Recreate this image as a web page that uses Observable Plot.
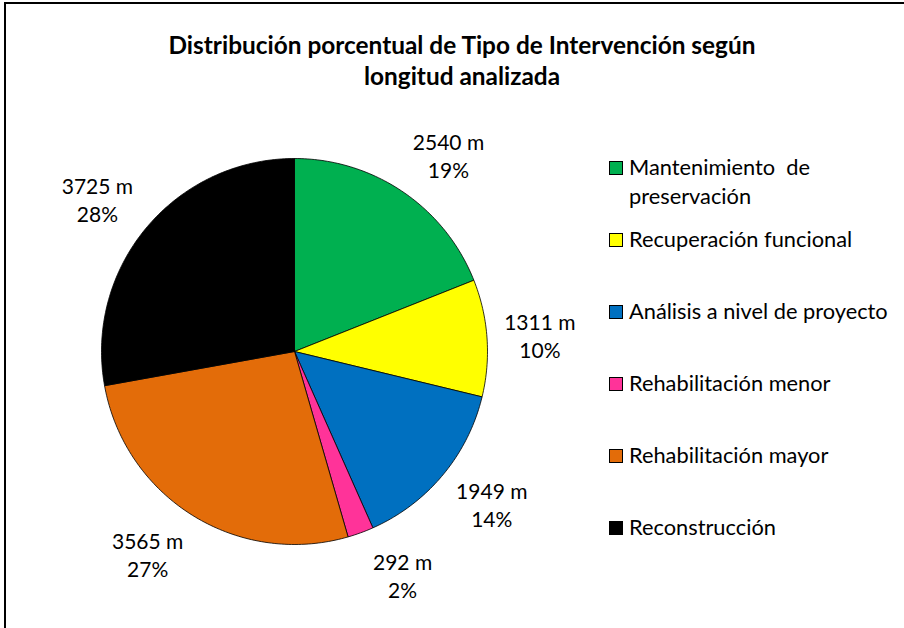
<!DOCTYPE html>
<html>
<head>
<meta charset="utf-8">
<script src="https://cdn.jsdelivr.net/npm/d3@7"></script>
<script src="https://cdn.jsdelivr.net/npm/@observablehq/plot@0.6"></script>
<style>
  html, body { margin: 0; padding: 0; background: #fff; }
  #wrap { position: relative; width: 904px; height: 628px; overflow: hidden; background: #fff; font-family: Lato, "Open Sans", sans-serif; }
  #frame { position: absolute; left: 4px; top: 2px; width: 940px; height: 660px; border: 2px solid #000; box-sizing: border-box; }
  #title { position: absolute; left: 0; width: 924px; top: 29px; text-align: center; font-weight: bold; font-size: 24.4px; line-height: 31px; color: #000; }
  #chart { position: absolute; left: 0; top: 0; }
  #legend { position: absolute; left: 609px; top: 152px; font-size: 21.8px; color: #000; }
  .item { position: relative; padding-left: 20px; line-height: 29px; white-space: pre; }
  .sw { position: absolute; left: 0; top: 9px; width: 12px; height: 12px; border: 1px solid #000; }
</style>
</head>
<body>
<div id="wrap">
  <div id="chart"></div>
  <div id="title">Distribución porcentual de Tipo de Intervención según<br>longitud analizada</div>
  <div id="legend"></div>
  <div id="frame"></div>
</div>
<script>
const categories = ["Mantenimiento de preservación", "Recuperación funcional", "Análisis a nivel de proyecto", "Rehabilitación menor", "Rehabilitación mayor", "Reconstrucción"];
const legendLines = [["Mantenimiento  de", "preservación"], ["Recuperación funcional"], ["Análisis a nivel de proyecto"], ["Rehabilitación menor"], ["Rehabilitación mayor"], ["Reconstrucción"]];
const lengths = [2540, 1311, 1949, 292, 3565, 3725];
const percents = [19, 10, 14, 2, 27, 28];
const colors = ["#00B050", "#FFFF00", "#0070C0", "#FF3399", "#E36C09", "#000000"];

// geometry in units of pie radius
const W = 904, H = 628, CX = 294, CY = 351, R = 193;
const total = d3.sum(lengths);
const slices = [];
const labels = [];
let acc = 0;
lengths.forEach((v, i) => {
  const a0 = acc / total * 2 * Math.PI;
  acc += v;
  const a1 = acc / total * 2 * Math.PI;
  const n = Math.max(2, Math.ceil((a1 - a0) / (Math.PI / 180)));
  slices.push({cat: categories[i], x: 0, y: 0});
  for (let k = 0; k <= n; k++) {
    const a = a0 + (a1 - a0) * k / n;
    slices.push({cat: categories[i], x: Math.sin(a), y: Math.cos(a)});
  }
  slices.push({cat: categories[i], x: 0, y: 0});
  const m = (a0 + a1) / 2;
  const s = Math.sin(m), c = Math.cos(m);
  // label placed outside the arc, beside the slice bisector ("outside end")
  labels.push({cat: categories[i], x: 1.0865 * s + 0.1876 * Math.sign(s), y: 1.233 * c, text: `${lengths[i]} m\n${percents[i]}%`});
});

const plot = Plot.plot({
  width: W, height: H,
  margin: 0,
  x: {domain: [-CX / R, (W - CX) / R], axis: null},
  y: {domain: [-(H - CY) / R, CY / R], axis: null},
  color: {type: "ordinal", domain: categories, range: colors},
  style: {fontFamily: "Lato, 'Open Sans', sans-serif", background: "transparent"},
  marks: [
    Plot.line(slices, {x: "x", y: "y", z: "cat", fill: "cat", stroke: "#000", strokeWidth: 0.8, curve: "linear"}),
    Plot.text(labels, {x: "x", y: "y", text: "text", fontSize: 21, lineHeight: 1.35, fill: "#000"})
  ]
});
document.getElementById("chart").appendChild(plot);

const color = plot.scale("color");
const legend = document.getElementById("legend");
categories.forEach((c, i) => {
  const div = document.createElement("div");
  div.className = "item";
  div.style.marginBottom = (i === 0 ? 14 : 43) + "px";
  const sw = document.createElement("span");
  sw.className = "sw";
  sw.style.background = color.apply(c);
  div.appendChild(sw);
  div.appendChild(document.createTextNode(legendLines[i].join("\n")));
  legend.appendChild(div);
});
</script>
</body>
</html>
